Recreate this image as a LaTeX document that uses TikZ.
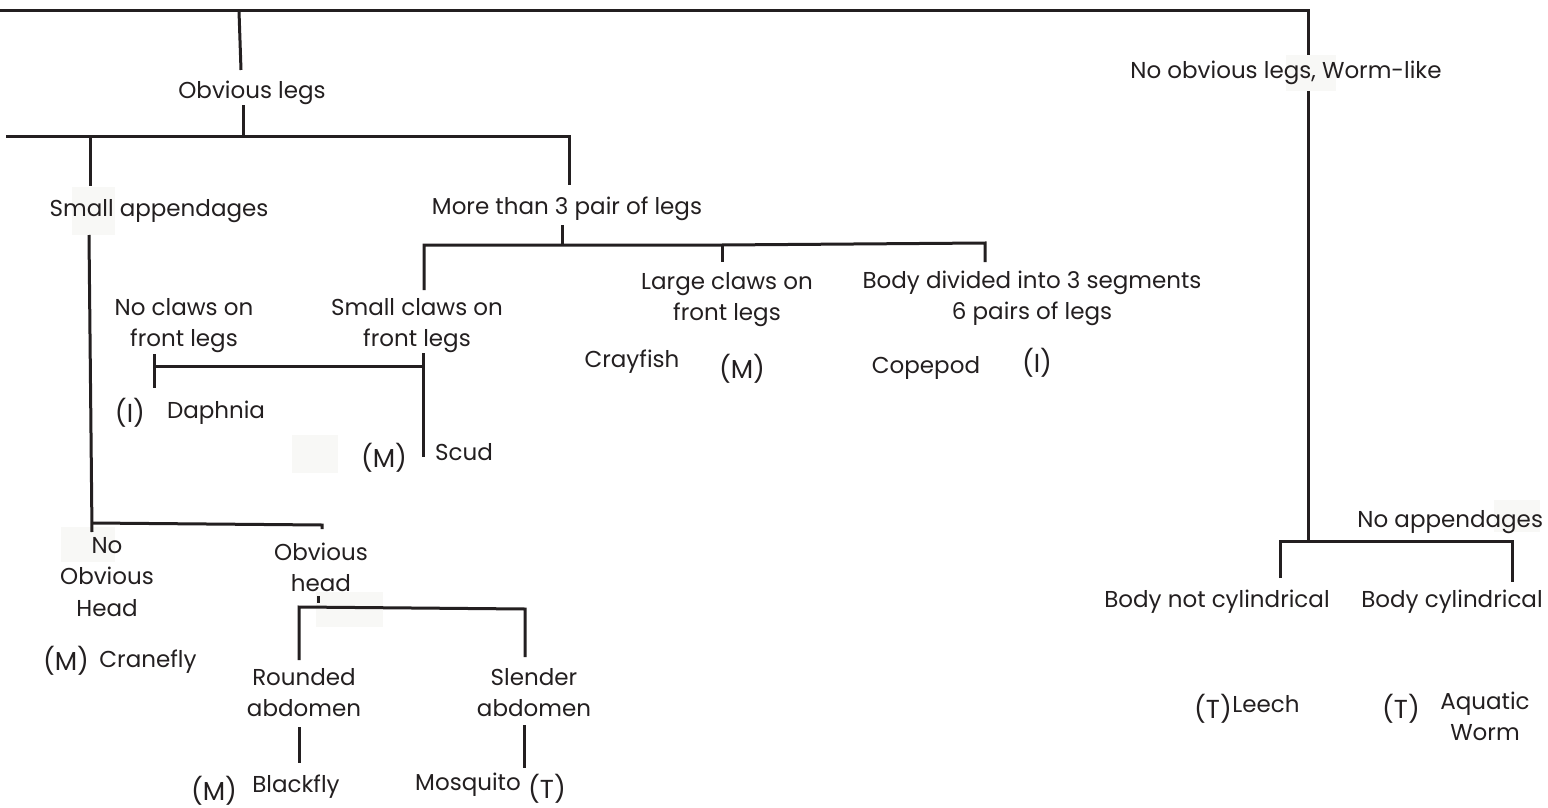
\documentclass[tikz,border=0pt]{standalone}
\usepackage{fontspec}
\setmainfont{Poppins}
\definecolor{ink}{HTML}{231F20}
\definecolor{ghostc}{HTML}{F8F8F6}
\newcommand{\lblfont}{\fontsize{23}{31.5}\selectfont}
\newcommand{\tagfont}{\fontsize{26}{32}\selectfont}
\newcommand{\twol}[2]{\begin{tabular}[t]{@{}c@{}}#1\\#2\end{tabular}}
\newcommand{\threel}[3]{\begin{tabular}[t]{@{}c@{}}#1\\#2\\#3\end{tabular}}
\begin{document}
\begin{tikzpicture}[x=1pt,y=-1pt]
\tikzset{
  lbl/.style={inner sep=0pt, outer sep=0pt, anchor=base, text=ink, font=\lblfont},
  tag/.style={lbl, font=\tagfont},
  ln/.style={draw=ink, line width=3pt, line cap=butt, line join=miter},
  ghost/.style={fill=ghostc, draw=none}
}
\fill[white] (0,0) rectangle (1548,808);
\useasboundingbox (0,0) rectangle (1548,808);

% faint background patches
\path[ghost] (72,187) rectangle (115,235);
\path[ghost] (292,435) rectangle (338,473);
\path[ghost] (61,527) rectangle (115,562);
\path[ghost] (316,592) rectangle (383,627);
\path[ghost] (1286,55) rectangle (1336,91);
\path[ghost] (1494,500) rectangle (1540,532);

% ---------------- labels ----------------
\node[lbl] (obvlegs) at (252,99) {Obvious legs};
\node[lbl] (nolegs) at (1286,79) {No obvious legs, Worm-like};
\node[lbl] (small) at (159,216) {Small appendages};
\node[lbl] (more) at (567,214) {More than 3 pair of legs};
\node[lbl] (noclaws) at (184,315) {\twol{No claws on}{front legs}};
\node[lbl] (smallclaws) at (417,315) {\twol{Small claws on}{front legs}};
\node[lbl] (large) at (727,289) {\twol{Large claws on}{front legs}};
\node[lbl] (body3) at (1032,288) {\twol{Body divided into 3 segments}{6 pairs of legs}};
\node[lbl] (crayfish) at (632,367) {Crayfish};
\node[tag] (crayM) at (742,378) {(M)};
\node[lbl] (copepod) at (926,373) {Copepod};
\node[tag] (copI) at (1037,372) {(I)};
\node[tag] (daphI) at (130,422) {(I)};
\node[lbl] (daphnia) at (216,418) {Daphnia};
\node[tag] (scudM) at (384,467) {(M)};
\node[lbl] (scud) at (464,460) {Scud};
\node[lbl] (nohead) at (107,553) {\threel{No}{Obvious}{Head}};
\node[lbl] (obvhead) at (321,560) {\twol{Obvious}{head}};
\node[tag] (craneM) at (66,670) {(M)};
\node[lbl] (cranefly) at (148,667) {Cranefly};
\node[lbl] (rounded) at (304,685) {\twol{Rounded}{abdomen}};
\node[lbl] (slender) at (534,685) {\twol{Slender}{abdomen}};
\node[tag] (blackM) at (214,800) {(M)};
\node[lbl] (blackfly) at (296,792) {Blackfly};
\node[lbl] (mosquito) at (468,790) {Mosquito};
\node[tag] (mosqT) at (547,798) {(T)};
\node[lbl, anchor=base east] (noapp) at (1543,527) {No appendages};
\node[lbl] (notcyl) at (1217,607) {Body not cylindrical};
\node[lbl] (cyl) at (1452,607) {Body cylindrical};
\node[tag] (leechT) at (1213,718) {(T)};
\node[lbl] (leech) at (1266,712) {Leech};
\node[tag] (aqT) at (1401,718) {(T)};
\node[lbl] (aquatic) at (1485,709) {\twol{Aquatic}{Worm}};

% ---------------- junction coordinates ----------------
\coordinate (topL) at (0,11);
\coordinate (topR) at (1308,11);
\coordinate (topDrop) at (239,11);
\coordinate (obvTop) at (241,70);
\coordinate (rA) at (1308,55);
\coordinate (rB) at (1308,91);
\coordinate (rJ) at (1308,541);
\coordinate (rL) at (1280,541);
\coordinate (rR) at (1512,541);
\coordinate (rLd) at (1280,578);
\coordinate (rRd) at (1512,582);

\coordinate (obvBot) at (243,105);
\coordinate (obvJ) at (243,136);
\coordinate (h1L) at (6,136);
\coordinate (h1R) at (569,136);
\coordinate (smallJ) at (90,136);
\coordinate (smallTop) at (90,186);
\coordinate (moreTop) at (569,185);

\coordinate (smallBot) at (89,235);
\coordinate (smallEnd) at (92,532);
\coordinate (hdJ) at (92,523);
\coordinate (hdR) at (322,525);
\coordinate (hdRd) at (322,529);

\coordinate (moreBot) at (562,225);
\coordinate (moreJ) at (562,245);
\coordinate (m3L) at (424,245);
\coordinate (m3Ld) at (424,290);
\coordinate (m3M) at (722,245);
\coordinate (m3Md) at (722,262);
\coordinate (m3R) at (985,243);
\coordinate (m3Rd) at (985,262);

\coordinate (clL) at (154,366);
\coordinate (clLt) at (154,354);
\coordinate (clLb) at (154,388);
\coordinate (clR) at (423,366);
\coordinate (clRt) at (423,353);
\coordinate (clRb) at (423,457);

\coordinate (ohT) at (318,596);
\coordinate (ohB) at (318,603);
\coordinate (abL) at (299,607);
\coordinate (abLd) at (299,660);
\coordinate (abR) at (525,609);
\coordinate (abRd) at (525,657);
\coordinate (rdT) at (299,727);
\coordinate (rdB) at (299,763);
\coordinate (slT) at (524,725);
\coordinate (slB) at (524,768);

% ---------------- connectors ----------------
\draw[ln] (topL) -- (topR) -- (rA);
\draw[ln] (rB) -- (rJ);
\draw[ln] (rLd) -- (rL) -- (rR) -- (rRd);
\draw[ln] (topDrop) -- (obvTop);
\draw[ln] (obvBot) -- (obvJ);
\draw[ln] (h1L) -- (h1R) -- (moreTop);
\draw[ln] (smallJ) -- (smallTop);
\draw[ln] (smallBot) -- (smallEnd);
\draw[ln] (hdJ) -- (hdR) -- (hdRd);
\draw[ln] (moreBot) -- (moreJ);
\draw[ln] (m3Ld) -- (m3L) -- (m3M) -- (m3R) -- (m3Rd);
\draw[ln] (m3M) -- (m3Md);
\draw[ln] (clLt) -- (clLb);
\draw[ln] (clL) -- (clR);
\draw[ln] (clRt) -- (clRb);
\draw[ln] (ohT) -- (ohB);
\draw[ln] (abLd) -- (abL) -- (abR) -- (abRd);
\draw[ln] (rdT) -- (rdB);
\draw[ln] (slT) -- (slB);
\end{tikzpicture}
\end{document}
